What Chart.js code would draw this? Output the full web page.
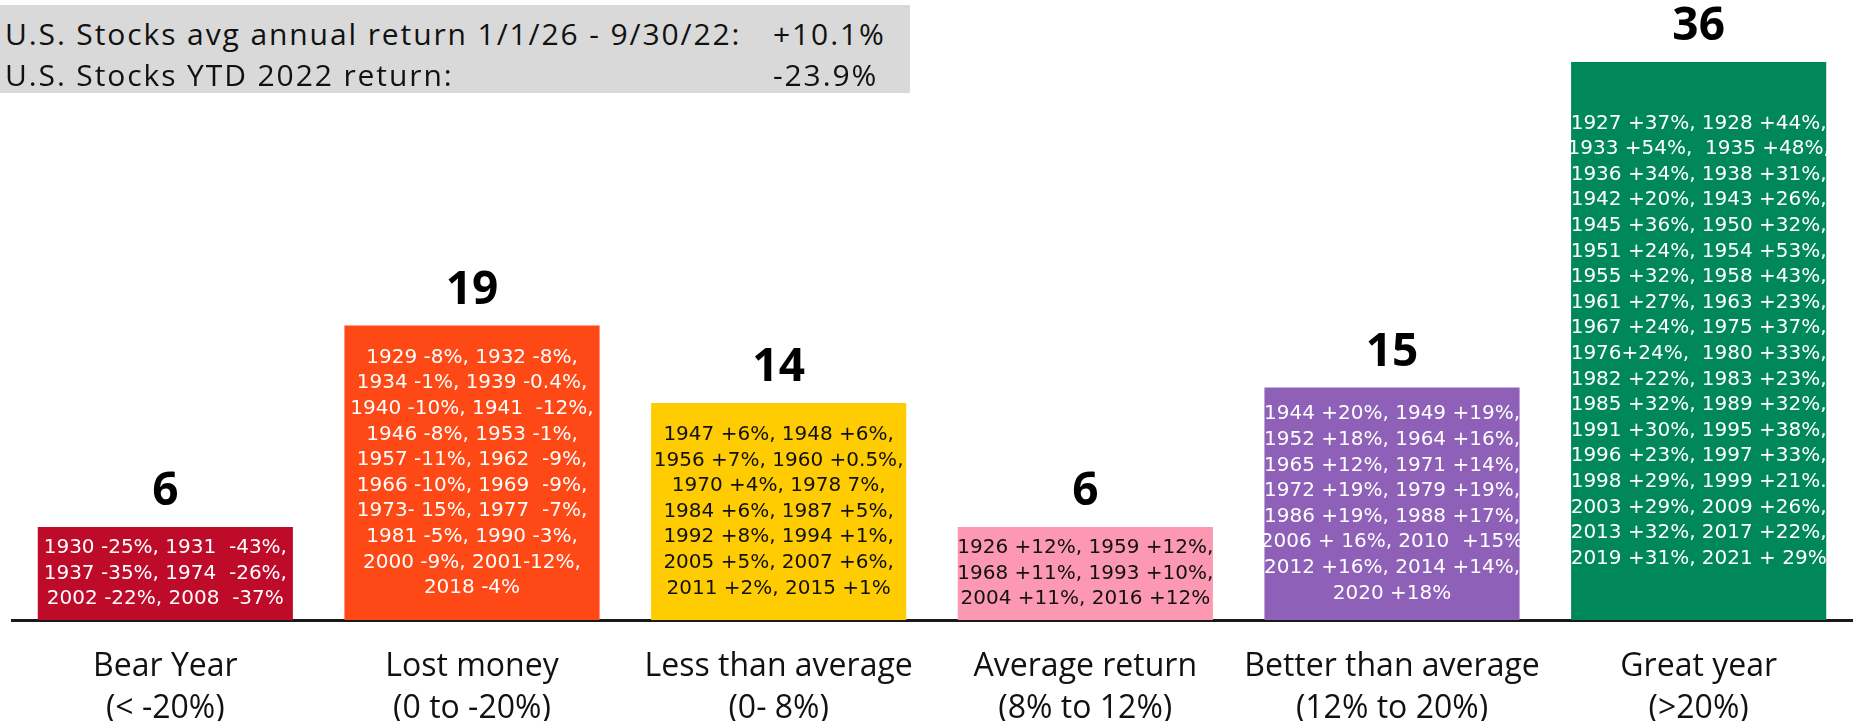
<!DOCTYPE html>
<html>
<head>
<meta charset="utf-8">
<script src="https://cdn.jsdelivr.net/npm/chart.js@4.4.1/dist/chart.umd.min.js"></script>
<style>
  html, body { margin: 0; padding: 0; background: #fff; }
  #wrap { position: relative; width: 1858px; height: 721px; }
  #info {
    position: absolute; left: 0; top: 5px; width: 910px; height: 88px;
    background: #d9d9d9; color: #111;
    font-family: "Open Sans", sans-serif; font-size: 30px; letter-spacing: 1.9px;
  }
  .row { position: absolute; left: 5px; height: 40px; line-height: 40px; white-space: nowrap; }
  .row span { position: absolute; left: 768px; }
</style>
</head>
<body>
<div id="wrap">
  <canvas id="chart"></canvas>
  <div id="info"></div>
</div>
<script>
// categories and counts of years
const categories = [
  ["Bear Year", "(< -20%)"],
  ["Lost money", "(0 to -20%)"],
  ["Less than average", "(0- 8%)"],
  ["Average return", "(8% to 12%)"],
  ["Better than average", "(12% to 20%)"],
  ["Great year", "(>20%)"]
];
const yearCounts = [6, 19, 14, 6, 15, 36];

const barColors = ["#be0b2a", "#fe4816", "#fecc00", "#fc98b2", "#8e60b8", "#00885a"];
const noteColors = ["#ffffff", "#ffffff", "#111111", "#111111", "#ffffff", "#ffffff"];

// years listed inside each bar, one entry per printed line
const bearYears = ["1930 -25%, 1931  -43%,", "1937 -35%, 1974  -26%,", "2002 -22%, 2008  -37%"];
const lostYears = [
  "1929 -8%, 1932 -8%,", "1934 -1%, 1939 -0.4%,", "1940 -10%, 1941  -12%,",
  "1946 -8%, 1953 -1%,", "1957 -11%, 1962  -9%,", "1966 -10%, 1969  -9%,",
  "1973- 15%, 1977  -7%,", "1981 -5%, 1990 -3%,", "2000 -9%, 2001-12%,", "2018 -4%"
];
const lessYears = [
  "1947 +6%, 1948 +6%,", "1956 +7%, 1960 +0.5%,", "1970 +4%, 1978 7%,",
  "1984 +6%, 1987 +5%,", "1992 +8%, 1994 +1%,", "2005 +5%, 2007 +6%,", "2011 +2%, 2015 +1%"
];
const avgYears = ["1926 +12%, 1959 +12%,", "1968 +11%, 1993 +10%,", "2004 +11%, 2016 +12%"];
const betterYears = [
  "1944 +20%, 1949 +19%,", "1952 +18%, 1964 +16%,", "1965 +12%, 1971 +14%,",
  "1972 +19%, 1979 +19%,", "1986 +19%, 1988 +17%,", "2006 + 16%, 2010  +15%",
  "2012 +16%, 2014 +14%,", "2020 +18%"
];
const greatYears = [
  "1927 +37%, 1928 +44%,", "1933 +54%,  1935 +48%,", "1936 +34%, 1938 +31%,",
  "1942 +20%, 1943 +26%,", "1945 +36%, 1950 +32%,", "1951 +24%, 1954 +53%,",
  "1955 +32%, 1958 +43%,", "1961 +27%, 1963 +23%,", "1967 +24%, 1975 +37%,",
  "1976+24%,  1980 +33%,", "1982 +22%, 1983 +23%,", "1985 +32%, 1989 +32%,",
  "1991 +30%, 1995 +38%,", "1996 +23%, 1997 +33%,", "1998 +29%, 1999 +21%.",
  "2003 +29%, 2009 +26%,", "2013 +32%, 2017 +22%,", "2019 +31%, 2021 + 29%"
];
const yearNotes = [bearYears, lostYears, lessYears, avgYears, betterYears, greatYears];

// summary box in the top left corner
const infoLabels = ["U.S. Stocks avg annual return 1/1/26 - 9/30/22:", "U.S. Stocks YTD 2022 return:"];
const infoValues = ["+10.1%", "-23.9%"];

const info = document.getElementById("info");
infoLabels.forEach((label, i) => {
  const row = document.createElement("div");
  row.className = "row";
  row.style.top = (9 + i * 41) + "px";
  row.textContent = label;
  const val = document.createElement("span");
  val.textContent = infoValues[i];
  row.appendChild(val);
  info.appendChild(row);
});

// count above each bar, year list inside it
const barText = {
  id: "barText",
  afterDatasetsDraw(chart) {
    const ctx = chart.ctx;
    chart.getDatasetMeta(0).data.forEach((bar, i) => {
      ctx.save();
      ctx.textAlign = "center";
      ctx.textBaseline = "middle";
      ctx.fillStyle = "#000";
      ctx.font = 'bold 46px "Open Sans"';
      ctx.fillText(String(yearCounts[i]), bar.x, bar.y - 35);

      const lines = yearNotes[i];
      const lh = 25.6;
      const first = (bar.y + bar.base) / 2 - (lines.length - 1) * lh / 2;
      ctx.font = '20px "DejaVu Sans"';
      ctx.fillStyle = noteColors[i];
      lines.forEach((t, k) => ctx.fillText(t, bar.x, first + k * lh));
      ctx.restore();
    });
  }
};

new Chart(document.getElementById("chart"), {
  type: "bar",
  data: {
    labels: categories,
    datasets: [{
      data: yearCounts,
      backgroundColor: barColors,
      borderWidth: 0,
      categoryPercentage: 1,
      barPercentage: 0.832
    }]
  },
  options: {
    responsive: true,
    maintainAspectRatio: false,
    animation: false,
    layout: { padding: { left: 12, right: 6, top: 0, bottom: 0 } },
    plugins: { legend: { display: false }, tooltip: { enabled: false } },
    scales: {
      x: {
        grid: { display: false, drawTicks: false },
        border: { display: true, color: "#1a1a1a", width: 3 },
        ticks: {
          color: "#111",
          padding: 26,
          maxRotation: 0,
          font: { family: "Open Sans", size: 32, lineHeight: 1.3 }
        },
        afterFit(scale) { scale.height = 101; }
      },
      y: { display: false, min: 0, max: 40 }
    }
  },
  plugins: [barText]
});
</script>
</body>
</html>
